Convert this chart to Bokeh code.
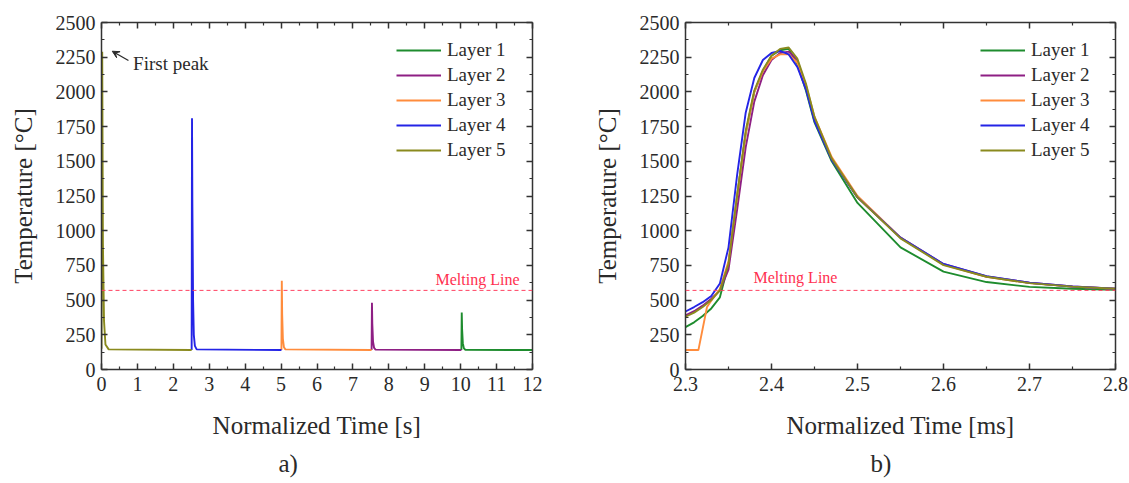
from bokeh.plotting import figure
from bokeh.models import (Range1d, LinearAxis, FixedTicker, Legend, LegendItem, Label,
                          Arrow, VeeHead, Title, Span, CustomJSTickFormatter)
from bokeh.layouts import row
from bokeh.embed import file_html
from bokeh.resources import INLINE

FONT = "Liberation Serif"
TXT = "#2a2a2a"

LAYERS = ["Layer 1", "Layer 2", "Layer 3", "Layer 4", "Layer 5"]
COLORS = ["#1e8c2e", "#8e1f84", "#ff8c3c", "#2424e6", "#8a8a1e"]
MELT = 570

# ---- panel a) : whole process, time in s ----
a_t1 = [10.02, 10.03, 10.04, 10.06, 10.09, 10.13, 12.0]
a_T1 = [140, 410, 290, 190, 152, 142, 140]
a_t2 = [7.52, 7.53, 7.54, 7.56, 7.59, 7.63, 10.02]
a_T2 = [140, 480, 330, 200, 155, 143, 140]
a_t3 = [5.01, 5.02, 5.03, 5.05, 5.08, 5.12, 7.52]
a_T3 = [140, 640, 400, 220, 160, 145, 140]
a_t4 = [2.51, 2.52, 2.53, 2.55, 2.57, 2.60, 2.65, 5.01]
a_T4 = [140, 1810, 1200, 500, 250, 170, 145, 140]
a_t5 = [0.0, 0.02, 0.04, 0.07, 0.11, 0.2, 2.51]
a_T5 = [150, 2290, 900, 350, 180, 145, 140]

a_xticks = [0, 1, 2, 3, 4, 5, 6, 7, 8, 9, 10, 11, 12]
y_ticks = [0, 250, 500, 750, 1000, 1250, 1500, 1750, 2000, 2250, 2500]

# ---- panel b) : zoom on the peak, time in ms ----
b_t = [2.30, 2.31, 2.32, 2.33, 2.34, 2.35, 2.36, 2.37, 2.38, 2.39, 2.40, 2.41,
       2.42, 2.43, 2.44, 2.45, 2.47, 2.50, 2.55, 2.60, 2.65, 2.70, 2.75, 2.80]
b_T1 = [305, 340, 385, 440, 520, 760, 1250, 1700, 2000, 2150, 2260, 2300,
        2310, 2200, 2010, 1780, 1500, 1200, 880, 705, 630, 595, 582, 575]
b_T2 = [390, 420, 460, 510, 570, 720, 1150, 1600, 1930, 2120, 2230, 2280,
        2290, 2230, 2040, 1800, 1520, 1240, 950, 760, 670, 625, 598, 582]
b_t3 = [2.30, 2.315, 2.325, 2.335, 2.34, 2.35, 2.36, 2.37, 2.38, 2.39, 2.40, 2.41,
        2.42, 2.43, 2.44, 2.45, 2.47, 2.50, 2.55, 2.60, 2.65, 2.70, 2.75, 2.80]
b_T3 = [140, 140, 450, 540, 580, 780, 1250, 1700, 2000, 2150, 2240, 2270,
        2270, 2210, 2050, 1820, 1530, 1250, 950, 755, 668, 622, 597, 582]
b_T4 = [418, 450, 485, 530, 620, 880, 1400, 1850, 2100, 2230, 2280, 2295,
        2270, 2180, 2020, 1790, 1510, 1240, 950, 760, 672, 625, 598, 582]
b_T5 = [380, 410, 450, 500, 570, 760, 1250, 1720, 2010, 2160, 2260, 2310,
        2320, 2240, 2060, 1820, 1520, 1240, 945, 752, 668, 622, 597, 582]

b_xticks = [2.3, 2.4, 2.5, 2.6, 2.7, 2.8]
b_xlabels = {2.3: "2.3", 2.4: "2.4", 2.5: "2.5", 2.6: "2.6", 2.7: "2.7", 2.8: "2.8"}

# annotation positions
A_MELT_TXT = (9.3, 650)
B_MELT_TXT = (2.379, 663)
PEAK_TXT = (0.88, 2205)
PEAK_ARROW = (0.75, 2226, 0.30, 2293)


def mids(ticks):
    return [(a + b) / 2 for a, b in zip(ticks[:-1], ticks[1:])]


def style_axis(ax, labels=True):
    ax.axis_line_color = "#333333"
    ax.axis_line_width = 1.5
    ax.major_tick_line_color = "#333333"
    ax.minor_tick_line_color = "#333333"
    ax.major_tick_line_width = 1.5
    ax.minor_tick_line_width = 1.2
    ax.major_tick_in = 6
    ax.major_tick_out = 0
    ax.minor_tick_in = 3
    ax.minor_tick_out = 0
    ax.major_label_text_font = FONT
    ax.major_label_text_font_style = "normal"
    ax.major_label_text_color = TXT
    ax.axis_label_text_font = FONT
    ax.axis_label_text_color = TXT
    ax.axis_label_text_font_style = "normal"
    if labels:
        ax.major_label_text_font_size = "20px"
        ax.major_label_standoff = 7
        ax.axis_label_text_font_size = "25px"
        ax.axis_label_standoff = 18
    else:
        ax.major_label_text_font_size = "0px"
        ax.major_label_standoff = 0
        ax.formatter = CustomJSTickFormatter(code="return '';")
        ax.axis_label = None


def make_panel(width, border_left, border_right, xr, xticks, xlabel, tag, tag_offset):
    p = figure(width=width, height=483, output_backend="svg", toolbar_location=None,
               x_range=Range1d(*xr), y_range=Range1d(0, 2500),
               x_axis_label=xlabel, y_axis_label="Temperature [°C]",
               min_border_left=border_left, min_border_right=border_right,
               min_border_top=22, min_border_bottom=114)
    p.grid.visible = False
    p.outline_line_color = None
    p.background_fill_color = "white"
    p.border_fill_color = "white"
    xt = FixedTicker(ticks=xticks, minor_ticks=mids(xticks))
    yt = FixedTicker(ticks=y_ticks, minor_ticks=mids(y_ticks))
    p.xaxis[0].ticker = xt
    p.yaxis[0].ticker = yt
    style_axis(p.xaxis[0])
    style_axis(p.yaxis[0])
    p.yaxis[0].axis_label_standoff = 16
    p.yaxis[0].major_label_standoff = 6
    top = LinearAxis(ticker=FixedTicker(ticks=xticks, minor_ticks=mids(xticks)))
    right = LinearAxis(ticker=FixedTicker(ticks=y_ticks, minor_ticks=mids(y_ticks)))
    style_axis(top, labels=False)
    style_axis(right, labels=False)
    p.add_layout(top, "above")
    p.add_layout(right, "right")
    p.add_layout(Span(location=MELT, dimension="width", line_color="#ff4060",
                      line_width=1, line_dash="4 3"))
    p.add_layout(Title(text=tag, align="left", offset=tag_offset, text_font=FONT,
                       text_font_size="25px", text_font_style="normal",
                       standoff=13, text_color=TXT), "below")
    return p


pa = make_panel(580, 101, 48, (0, 12), a_xticks, "Normalized Time [s]", "a)", 177)
pb = make_panel(549, 105, 14, (2.3, 2.8), b_xticks, "Normalized Time [ms]", "b)", 185)
pb.xaxis[0].major_label_overrides = b_xlabels

a_data = [(a_t1, a_T1), (a_t2, a_T2), (a_t3, a_T3), (a_t4, a_T4), (a_t5, a_T5)]
b_data = [(b_t, b_T1), (b_t, b_T2), (b_t3, b_T3), (b_t, b_T4), (b_t, b_T5)]

for p, data in ((pa, a_data), (pb, b_data)):
    items = []
    for name, color, (xs, ys) in zip(LAYERS, COLORS, data):
        r = p.line(xs, ys, line_color=color, line_width=1.9)
        items.append(LegendItem(label=name, renderers=[r]))
    leg = Legend(items=items, location=(295, 208), border_line_color=None,
                 background_fill_alpha=0, padding=0, margin=0, spacing=3,
                 glyph_width=45, glyph_height=20, label_height=20,
                 label_standoff=6, label_text_font=FONT,
                 label_text_font_style="normal",
                 label_text_font_size="19px", label_text_color=TXT)
    p.add_layout(leg, "center")

pa.add_layout(Label(x=A_MELT_TXT[0], y=A_MELT_TXT[1], text="Melting Line",
                    text_font=FONT, text_font_size="16px", text_color="#ff3050",
                    text_font_style="normal",
                    text_baseline="middle", text_align="left"))
pb.add_layout(Label(x=B_MELT_TXT[0], y=B_MELT_TXT[1], text="Melting Line",
                    text_font=FONT, text_font_size="16px", text_color="#ff3050",
                    text_font_style="normal",
                    text_baseline="middle", text_align="left"))
pa.add_layout(Label(x=PEAK_TXT[0], y=PEAK_TXT[1], text="First peak",
                    text_font=FONT, text_font_size="19px", text_color=TXT,
                    text_font_style="normal",
                    text_baseline="middle", text_align="left"))
pa.add_layout(Arrow(x_start=PEAK_ARROW[0], y_start=PEAK_ARROW[1],
                    x_end=PEAK_ARROW[2], y_end=PEAK_ARROW[3],
                    line_color=TXT, line_width=1.2,
                    end=VeeHead(size=7, line_color=TXT, fill_color=TXT)))

layout = row(pa, pb)
open("out.html", "w").write(file_html(layout, INLINE))
